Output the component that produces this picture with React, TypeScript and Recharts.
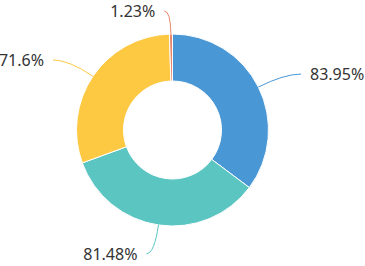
import React from 'react';
import { PieChart, Pie, Cell } from 'recharts';

const names = ['A', 'B', 'C', 'D'];
const values = [83.95, 81.48, 71.6, 1.23];
const labels = ['83.95%', '81.48%', '71.6%', '1.23%'];
const colors = ['#4a97d5', '#5bc5c2', '#fdc943', '#e8876e'];

const data = names.map((n, i) => ({ name: n, value: values[i], label: labels[i] }));

const RAD = Math.PI / 180;

const renderLabel = (props: any) => {
  const { cx, cy, midAngle, outerRadius, index } = props;
  const cos = Math.cos(-midAngle * RAD);
  const sin = Math.sin(-midAngle * RAD);
  const x1 = cx + outerRadius * cos;
  const y1 = cy + outerRadius * sin;
  const r2 = outerRadius + 29;
  const x2 = cx + r2 * cos;
  const y2 = Math.max(cy + r2 * sin, 11);
  const dir = cos >= 0.05 ? 1 : -1;
  const len2 = 6 + 12 * Math.abs(cos);
  const x3 = x2 + dir * len2;
  const y3 = y2;
  const d = `M${x1},${y1} Q${x2},${y2} ${x3},${y3}`;
  return (
    <g key={`lbl-${index}`}>
      <path d={d} stroke={colors[index]} strokeWidth={1} fill="none" />
      <text
        x={x3 + dir * 9}
        y={y3}
        textAnchor={dir > 0 ? 'start' : 'end'}
        dominantBaseline="central"
        fill="#333"
        fontSize={16}
        fontFamily="'Noto Sans', 'Open Sans', sans-serif"
      >
        {labels[index]}
      </text>
    </g>
  );
};

export default function App() {
  return (
    <div style={{ position: 'absolute', left: 0, top: 0, width: 365, height: 266, background: '#fff' }}>
      <PieChart width={365} height={266} margin={{ top: 0, right: 0, bottom: 0, left: 0 }}>
        <Pie
          data={data}
          dataKey="value"
          cx={172.5}
          cy={130}
          innerRadius={49}
          outerRadius={96}
          startAngle={90}
          endAngle={-270}
          stroke="#fff"
          strokeWidth={1}
          label={renderLabel}
          labelLine={false}
          isAnimationActive={false}
        >
          {data.map((d, i) => (
            <Cell key={d.name} fill={colors[i]} />
          ))}
        </Pie>
      </PieChart>
    </div>
  );
}
